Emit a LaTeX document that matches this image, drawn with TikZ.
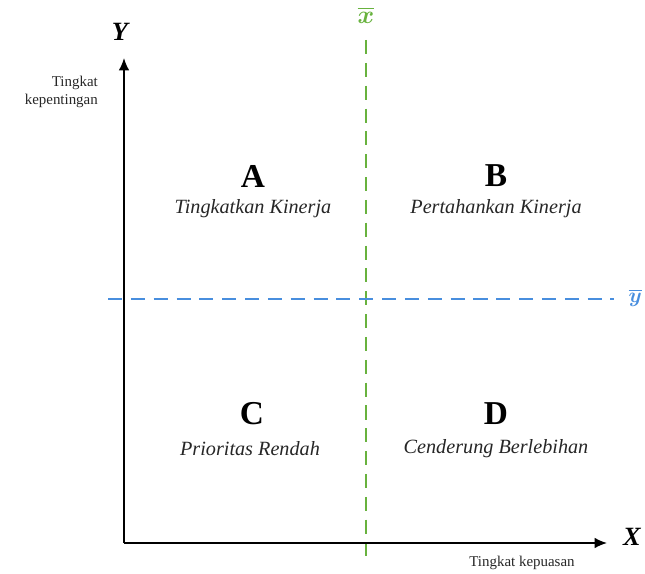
\documentclass[tikz,border=0pt]{standalone}
\usepackage{amsmath,bm}
\usepackage{fontspec}
\setmainfont{Liberation Serif}
\usetikzlibrary{arrows.meta}
\definecolor{meangreen}{RGB}{104,178,62}
\definecolor{meanblue}{RGB}{72,142,222}

\begin{document}
\begin{tikzpicture}[x=0.02cm,y=-0.02cm]
		\tikzstyle{axis}=[line width=0.9pt,-{Latex[length=7pt,width=6pt]}]
		\tikzstyle{quad}=[font=\fontsize{19}{21}\selectfont\bfseries]
		\tikzstyle{strat}=[font=\fontsize{11.5}{13}\selectfont\itshape,text=black!85]
		\tikzstyle{small}=[font=\fontsize{8.5}{10}\selectfont,text=black!85]
		
		\useasboundingbox (0,0) rectangle (645,574);
		
		\coordinate (O) at (124,543);
		\coordinate (ytip) at (124,58);
		\coordinate (xtip) at (607,543);
		\coordinate (xbtop) at (366,40);
		\coordinate (xbbot) at (366,556);
		\coordinate (ybl) at (108,299);
		\coordinate (ybr) at (614,299);
		
		% mean lines
		\draw[meangreen,line width=1pt,dash pattern=on 8pt off 5pt] (xbtop) -- (xbbot);
		\draw[meanblue,line width=1pt,dash pattern=on 8pt off 5pt] (ybl) -- (ybr);
		\node[text=meangreen,font=\fontsize{14}{16}\selectfont](xbar) at (366,15){$\bm{\overline{x}}$};
		\node[text=meanblue,font=\fontsize{13}{15}\selectfont,anchor=east,inner sep=1pt](ybar) at (644,298){$\bm{\overline{y}}$};
		
		% axes
		\draw[axis] (O) -- (ytip);
		\draw[axis] (O) -- (xtip);
		\node[font=\fontsize{15}{17}\selectfont\bfseries\itshape](ylab) at (120,32){Y};
		\node[font=\fontsize{15}{17}\selectfont\bfseries\itshape](xlab) at (632,537){X};
		\node[small,align=right,anchor=east](yname) at (104,92){Tingkat\\kepentingan};
		\node[small](xname) at (522,563){Tingkat kepuasan};
		
		% quadrants
		\node[quad](A) at (253,176){A};
		\node[strat](sA) at (253,209){Tingkatkan Kinerja};
		\node[quad](B) at (496,176){B};
		\node[strat](sB) at (496,209){Pertahankan Kinerja};
		\node[quad](C) at (252,414){C};
		\node[strat](sC) at (250,449){Prioritas Rendah};
		\node[quad](D) at (496,414){D};
		\node[strat](sD) at (496,449){Cenderung Berlebihan};
\end{tikzpicture}
\end{document}
